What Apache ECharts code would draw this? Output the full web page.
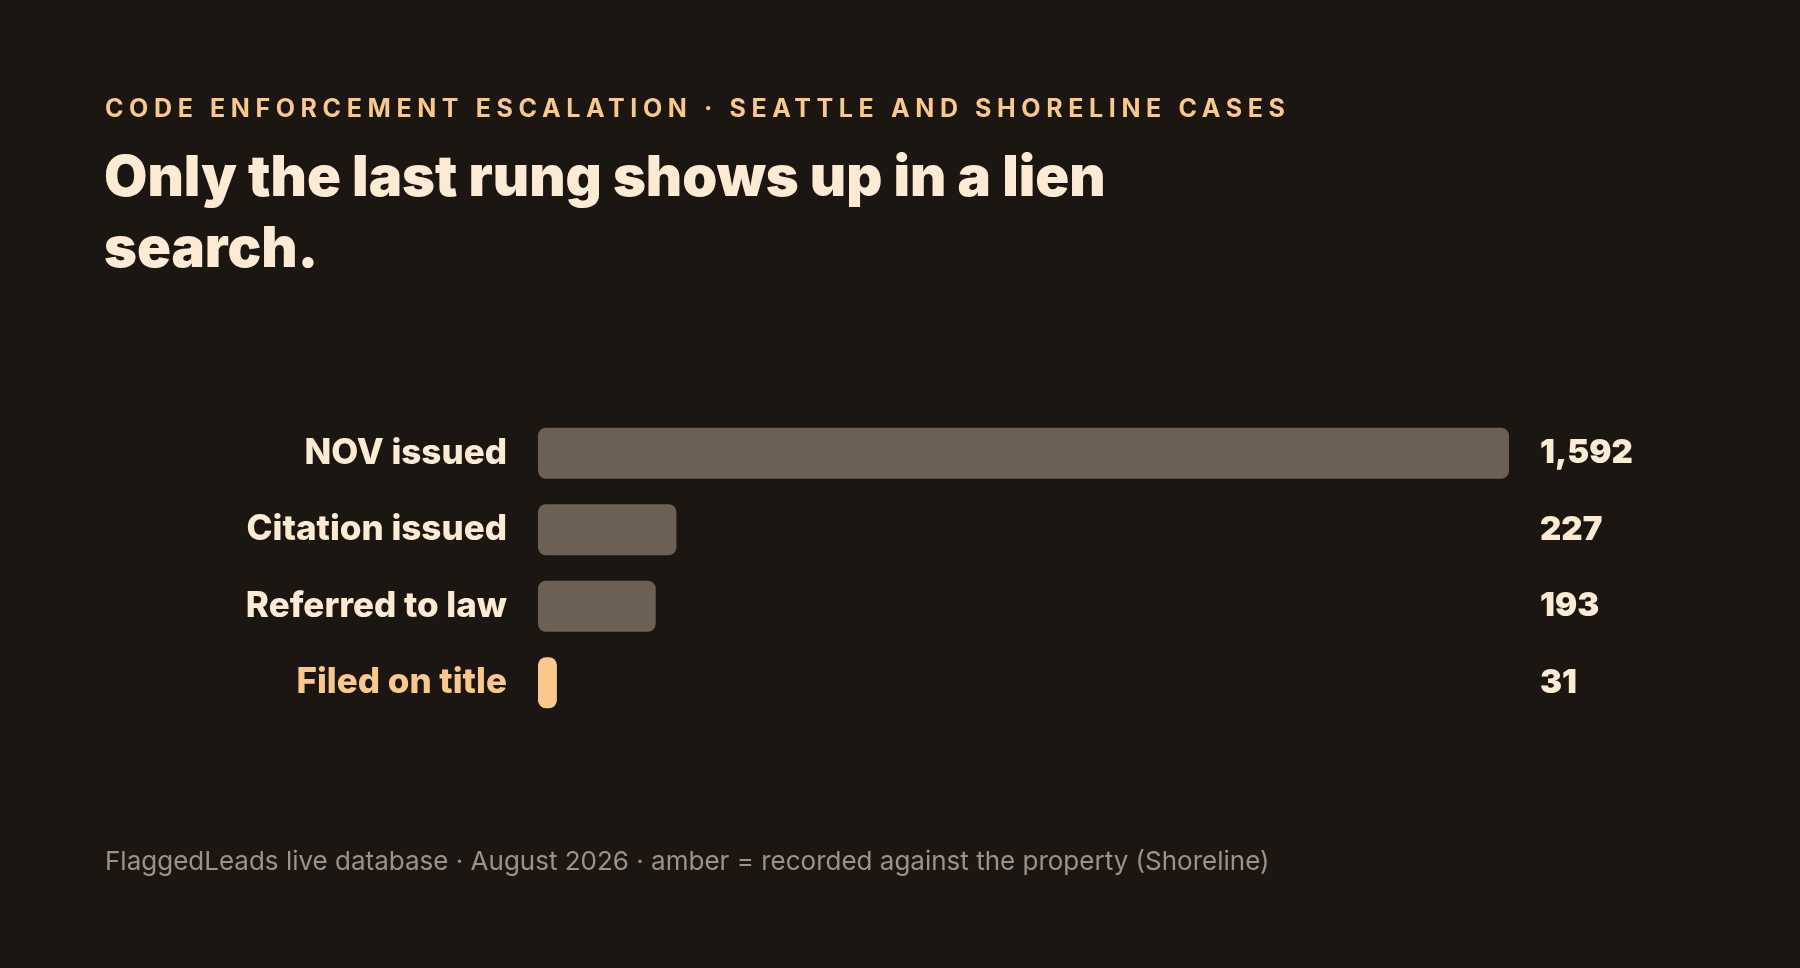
<!DOCTYPE html>
<html><head><meta charset="utf-8">
<script src="https://cdn.jsdelivr.net/npm/echarts@6/dist/echarts.min.js"></script>
<style>html,body{margin:0;padding:0;background:#1c1613;}#c{width:1800px;height:968px;}</style>
</head><body><div id="c"></div>
<script>
const kicker = 'CODE ENFORCEMENT ESCALATION · SEATTLE AND SHORELINE CASES';
const headline = 'Only the last rung shows up in a lien\nsearch.';
const footnote = 'FlaggedLeads live database · August 2026 · amber = recorded against the property (Shoreline)';
const stages = ['NOV issued', 'Citation issued', 'Referred to law', 'Filed on title'];
const counts = [1592, 227, 193, 31];
const recorded = [false, false, false, true];

const BG = '#1c1613', BAR = '#6b6051', AMBER = '#f8c88d', CREAM = '#fbebd4', MUTED = '#9c9289';
const FONT = 'Inter, "Noto Sans", sans-serif';
const KICKER_FONT = '700 25px Inter, "Noto Sans", sans-serif';
const KICKER_WIDTH = 1180;

// tracked (letter-spaced) kicker line: widen to the reference width
(function () {
  const m = document.createElement('canvas').getContext('2d');
  m.font = KICKER_FONT;
  const w = m.measureText(kicker).width;
  const spacing = Math.max(0, (KICKER_WIDTH - w) / (kicker.length - 1)).toFixed(2) + 'px';
  const orig = CanvasRenderingContext2D.prototype.fillText;
  CanvasRenderingContext2D.prototype.fillText = function (t, x, y, mw) {
    if ('letterSpacing' in this) {
      const f = this.font;
      this.letterSpacing = (t === kicker) ? spacing : '0px';
      this.font = f;
    }
    return mw === undefined ? orig.call(this, t, x, y) : orig.call(this, t, x, y, mw);
  };
})();

const chart = echarts.init(document.getElementById('c'), null, {renderer: 'canvas'});
chart.setOption({
  backgroundColor: BG,
  animation: false,
  title: [
    {text: kicker, left: 100, top: 91,
     textStyle: {color: AMBER, fontFamily: FONT, fontWeight: 700, fontSize: 25, lineHeight: 26}},
    {text: headline, left: 99, top: 139,
     textStyle: {color: CREAM, fontFamily: FONT, fontWeight: 900, fontSize: 56, lineHeight: 71}},
    {text: footnote, left: 100, top: 843,
     textStyle: {color: MUTED, fontFamily: FONT, fontWeight: 400, fontSize: 26, lineHeight: 28}}
  ],
  grid: {left: 538, right: 291, top: 415, height: 306},
  xAxis: {type: 'value', min: 0, max: 'dataMax', show: false},
  yAxis: [
    {type: 'category', inverse: true, data: stages,
     axisLine: {show: false}, axisTick: {show: false}, splitLine: {show: false},
     axisLabel: {margin: 31, fontFamily: FONT, fontSize: 35, fontWeight: 800, color: CREAM,
       formatter: (v, i) => recorded[i] ? '{a|' + v + '}' : '{c|' + v + '}',
       rich: {a: {color: AMBER, fontFamily: FONT, fontSize: 35, fontWeight: 800},
              c: {color: CREAM, fontFamily: FONT, fontSize: 35, fontWeight: 800}}}},
    {type: 'category', inverse: true, position: 'right', data: counts.map(v => v.toLocaleString('en-US')),
     axisLine: {show: false}, axisTick: {show: false}, splitLine: {show: false},
     axisLabel: {margin: 31, fontFamily: FONT, fontSize: 33, fontWeight: 900, color: CREAM, align: 'left'}}
  ],
  series: [{
    type: 'bar', yAxisIndex: 0, barWidth: 51,
    data: counts.map((v, i) => ({value: v, itemStyle: {color: recorded[i] ? AMBER : BAR, borderRadius: 8}})),
    label: {show: false}
  }]
});
</script></body></html>
